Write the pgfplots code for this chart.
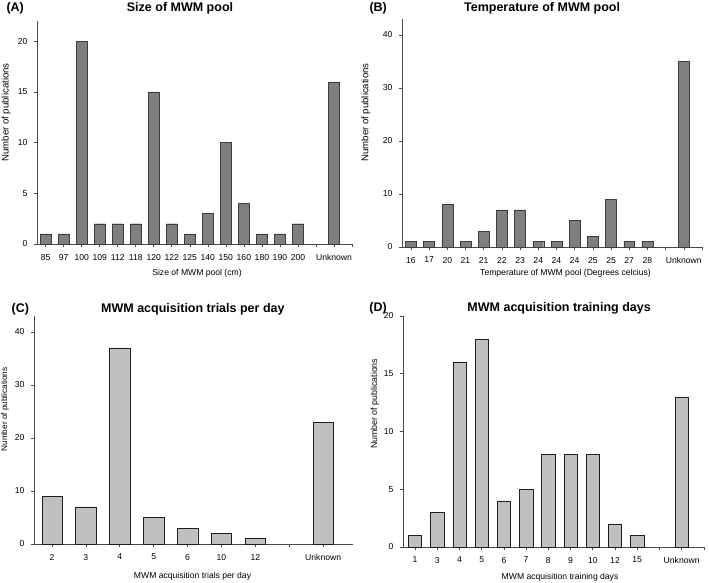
\documentclass[border=0pt]{standalone}
\usepackage{pgfplots}
\pgfplotsset{compat=1.18}
\usepackage{fontspec}
\setmainfont{Liberation Sans}

\definecolor{darkbar}{HTML}{7F7F7F}
\definecolor{darkedge}{HTML}{3C3C3C}
\definecolor{lightbar}{HTML}{C0C0C0}
\definecolor{lightedge}{HTML}{1E1E1E}
\definecolor{axisgray}{HTML}{4A4A4A}

\tikzset{
  letter/.style={anchor=west, font=\bfseries\fontsize{12.5}{14}\selectfont},
  ttl/.style={anchor=center, font=\bfseries\fontsize{12.5}{14}\selectfont},
}

\pgfplotsset{
  panel/.style={
    scale only axis, anchor=south west, clip=false,
    axis lines=left, axis line style={-, draw=axisgray, line width=0.6pt},
    tick align=outside, major tick length=3pt,
    tick style={draw=axisgray, line width=0.6pt},
    ymin=0, ybar, bar width=0.6,
    /pgf/number format/assume math mode=true,
    tick label style={font=\fontsize{8.6}{10}\selectfont},
    xticklabel style={yshift=-3.5pt},
    yticklabel style={xshift=-3pt},
    label style={font=\fontsize{8.6}{10}\selectfont},
    ylabel={Number of publications},
  },
}

\begin{document}
\begin{tikzpicture}
\useasboundingbox (0,0) rectangle (709pt,583pt);

% (A) pool size
\begin{axis}[panel, at={(37pt,339pt)}, width=315pt, height=223pt,
  xmin=-0.48, xmax=17, ymax=22, ytick={0,5,10,15,20},
  xtick={0,...,17},
  xticklabels={85,97,100,109,112,118,120,122,125,140,150,160,180,190,200,,Unknown,},
  xlabel={Size of MWM pool (cm)},
  xlabel style={at={(axis description cs:0.508,-0.132)}, anchor=center},
  ylabel style={at={(axis description cs:-0.098,0.59)}, anchor=center,
    font=\fontsize{9.6}{11}\selectfont},
]
\addplot[fill=darkbar, draw=darkedge] coordinates {
  (0,1) (1,1) (2,20) (3,2) (4,2) (5,2) (6,15) (7,2) (8,1) (9,3)
  (10,10) (11,4) (12,1) (13,1) (14,2) (16,16)
};
\node[letter] at (rel axis cs:-0.108,1.058) {(A)};
\node[ttl] at (rel axis cs:0.454,1.058) {Size of MWM pool};
\end{axis}

% (B) temperature
\begin{axis}[panel, at={(402pt,336pt)}, width=300pt, height=228pt,
  xmin=-0.49, xmax=16, ymax=43, ytick={0,10,20,30,40},
  xtick={0,...,16},
  xticklabels={16,17,20,21,21,22,23,24,24,24,25,25,27,28,,Unknown,},
  xlabel={Temperature of MWM pool (Degrees celcius)},
  xlabel style={at={(axis description cs:0.545,-0.115)}, anchor=center},
  ylabel style={at={(axis description cs:-0.12,0.59)}, anchor=center,
    font=\fontsize{9.6}{11}\selectfont},
]
\addplot[fill=darkbar, draw=darkedge] coordinates {
  (0,1) (1,1) (2,8) (3,1) (4,3) (5,7) (6,7) (7,1) (8,1) (9,5)
  (10,2) (11,9) (12,1) (13,1) (15,35)
};
\node[letter] at (rel axis cs:-0.12,1.048) {(B)};
\node[ttl] at (rel axis cs:0.467,1.048) {Temperature of MWM pool};
\end{axis}

% (C) trials per day
\begin{axis}[panel, at={(34pt,39pt)}, width=319pt, height=228pt,
  xmin=-0.53, xmax=8.88, ymax=43, ytick={0,10,20,30,40},
  xtick={0,...,8},
  xticklabels={2,3,4,5,6,10,12,,Unknown},
  xlabel={MWM acquisition trials per day},
  xlabel style={at={(axis description cs:0.497,-0.14)}, anchor=center},
  ylabel style={at={(axis description cs:-0.091,0.59)}, anchor=center,
    font=\fontsize{8.2}{10}\selectfont},
]
\addplot[fill=lightbar, draw=lightedge] coordinates {
  (0,9) (1,7) (2,37) (3,5) (4,3) (5,2) (6,1) (8,23)
};
\node[letter] at (rel axis cs:-0.081,1.031) {(C)};
\node[ttl] at (rel axis cs:0.498,1.031) {MWM acquisition trials per day};
\end{axis}

% (D) training days
\begin{axis}[panel, at={(403pt,36pt)}, width=302pt, height=231pt,
  xmin=-0.54, xmax=13.05, ymax=20, ytick={0,5,10,15,20},
  xtick={0,...,13},
  xticklabels={1,3,4,5,6,7,8,9,10,12,15,,Unknown,},
  xlabel={MWM acquisition training days},
  xlabel style={at={(axis description cs:0.52,-0.13)}, anchor=center},
  ylabel style={at={(axis description cs:-0.093,0.62)}, anchor=center,
    font=\fontsize{8.8}{10}\selectfont},
]
\addplot[fill=lightbar, draw=lightedge] coordinates {
  (0,1) (1,3) (2,16) (3,18) (4,4) (5,5) (6,8) (7,8) (8,8) (9,2)
  (10,1) (12,13)
};
\node[letter] at (rel axis cs:-0.123,1.035) {(D)};
\node[ttl] at (rel axis cs:0.517,1.035) {MWM acquisition training days};
\end{axis}
\end{tikzpicture}
\end{document}
